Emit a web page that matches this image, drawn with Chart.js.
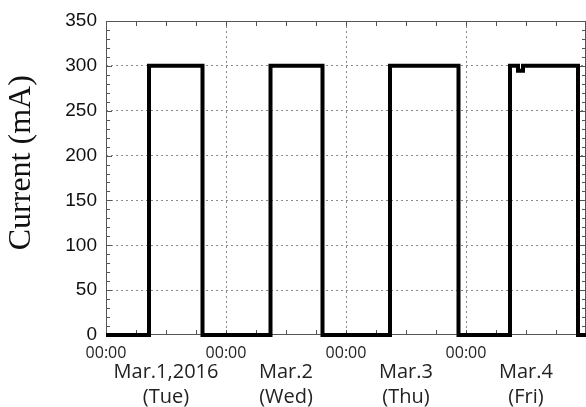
<!DOCTYPE html>
<html>
<head>
<meta charset="utf-8">
<script src="https://cdn.jsdelivr.net/npm/chart.js@4"></script>
<style>
  html, body { margin: 0; padding: 0; background: #fff; }
  canvas { display: block; }
</style>
</head>
<body>
<canvas id="chart" width="586" height="407"></canvas>
<script>
// Data: hours since Mar.1 00:00 where the current switches
const switchHours = [0, 8.6, 19.3, 32.9, 43.3, 56.8, 70.5, 80.8, 82.4, 83.4, 94.4, 96];
const currentMA   = [0, 300, 0, 300, 0, 300, 0, 300, 294.5, 300, 0, 0];

// x axis labels
const midnightLabel = '00:00';
const dayHours = [12, 36, 60, 84];
const dayLabels = [['Mar.1,2016', '(Tue)'], ['Mar.2', '(Wed)'], ['Mar.3', '(Thu)'], ['Mar.4', '(Fri)']];

// y axis
const yTitle = 'Current (mA)';
const yMax = 350;
const yStep = 50;
const xMax = 96;

const gridGrey = '#8a8a8a';
const frameGrey = '#555';

// box around the plot, small inward ticks and the y title
const frameTicks = {
  id: 'frameTicks',
  beforeDatasetsDraw(chart) {
    const { ctx, chartArea: a, scales } = chart;
    ctx.save();
    ctx.strokeStyle = frameGrey;
    ctx.lineWidth = 1;
    ctx.strokeRect(a.left + 0.5, a.top + 0.5, a.right - a.left - 1, a.bottom - a.top - 1);

    ctx.beginPath();
    for (let h = 0; h <= xMax; h += 6) {
      const px = Math.round(scales.x.getPixelForValue(h)) + 0.5;
      ctx.moveTo(px, a.bottom);
      ctx.lineTo(px, a.bottom - 5);
      ctx.moveTo(px, a.top);
      ctx.lineTo(px, a.top + 5);
    }
    for (let v = 0; v <= yMax; v += 10) {
      const py = Math.round(scales.y.getPixelForValue(v)) + 0.5;
      const len = v % yStep === 0 ? 6 : 4;
      ctx.moveTo(a.left, py);
      ctx.lineTo(a.left + len, py);
      ctx.moveTo(a.right, py);
      ctx.lineTo(a.right - len, py);
    }
    ctx.stroke();

    // title sits a bit above the middle of the axis in the original
    ctx.translate(22, scales.y.getPixelForValue(192));
    ctx.rotate(-Math.PI / 2);
    ctx.fillStyle = '#111';
    ctx.font = '32px "Liberation Serif"';
    ctx.textAlign = 'center';
    ctx.textBaseline = 'middle';
    ctx.fillText(yTitle, 0, 0);
    ctx.restore();
  }
};

const ctx = document.getElementById('chart').getContext('2d');

new Chart(ctx, {
  type: 'line',
  data: {
    datasets: [{
      data: switchHours.map((h, i) => ({ x: h, y: currentMA[i] })),
      borderColor: '#000',
      borderWidth: 4,
      stepped: 'before',
      pointRadius: 0,
      fill: false,
      clip: false,
      borderJoinStyle: 'miter',
      borderCapStyle: 'butt'
    }]
  },
  options: {
    responsive: false,
    animation: false,
    devicePixelRatio: 1,
    layout: { autoPadding: false, padding: { top: 21, right: 0, left: 0, bottom: 0 } },
    plugins: {
      legend: { display: false },
      tooltip: { enabled: false }
    },
    scales: {
      x: {
        type: 'linear',
        position: 'bottom',
        min: 0,
        max: xMax,
        afterBuildTicks: (scale) => {
          scale.ticks = [0, 24, 48, 72, 96].map(v => ({ value: v }));
        },
        afterFit: (scale) => {
          scale.height = 24;
          scale.paddingLeft = 0;
          scale.paddingRight = 0;
        },
        ticks: {
          autoSkip: false,
          maxRotation: 0,
          padding: 9,
          color: '#222',
          font: { family: 'Open Sans', size: 16 },
          callback: (v) => (v < xMax ? midnightLabel : '')
        },
        grid: {
          drawTicks: false,
          color: (c) => (c.tick && c.tick.value > 0 && c.tick.value < xMax ? gridGrey : 'rgba(0,0,0,0)'),
          lineWidth: 1
        },
        border: { display: false, dash: [2, 3] }
      },
      x2: {
        type: 'linear',
        position: 'bottom',
        min: 0,
        max: xMax,
        afterBuildTicks: (scale) => {
          scale.ticks = dayHours.map(v => ({ value: v }));
        },
        afterFit: (scale) => {
          scale.height = 48;
          scale.paddingLeft = 0;
          scale.paddingRight = 0;
        },
        ticks: {
          autoSkip: false,
          maxRotation: 0,
          padding: 1,
          color: '#222',
          font: { family: 'Open Sans', size: 20, lineHeight: 1.25 },
          callback: (v) => {
            const i = dayHours.indexOf(v);
            return i >= 0 ? dayLabels[i] : '';
          }
        },
        grid: { display: false, drawTicks: false },
        border: { display: false }
      },
      y: {
        min: 0,
        max: yMax,
        afterFit: (scale) => {
          scale.width = 106;
          scale.paddingTop = 0;
          scale.paddingBottom = 0;
        },
        ticks: {
          stepSize: yStep,
          padding: 9,
          color: '#111',
          font: { family: 'Liberation Sans', size: 19 }
        },
        grid: {
          drawTicks: false,
          color: (c) => (c.tick && c.tick.value > 0 && c.tick.value < yMax ? gridGrey : 'rgba(0,0,0,0)'),
          lineWidth: 1
        },
        border: { display: false, dash: [2, 3] }
      }
    }
  },
  plugins: [frameTicks]
});
</script>
</body>
</html>
